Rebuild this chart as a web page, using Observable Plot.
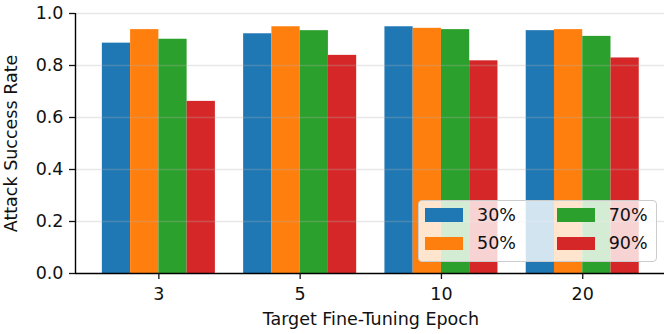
<!DOCTYPE html>
<html>
<head>
<meta charset="utf-8">
<script src="https://cdn.jsdelivr.net/npm/d3@7"></script>
<script src="https://cdn.jsdelivr.net/npm/@observablehq/plot@0.6"></script>
<style>
  html, body { margin: 0; padding: 0; background: #fff; }
  #wrap { position: relative; width: 664px; height: 334px; overflow: hidden; font-family: "DejaVu Sans", sans-serif; }
  #legend { position: absolute; left: 418px; top: 200px; width: 239px; height: 62px; box-sizing: border-box;
            border: 1px solid #cccccc; border-radius: 4px; background: rgba(255,255,255,0.8); }
  .item { position: absolute; display: flex; align-items: center; height: 13.5px; font-size: 17.5px; color: #111; }
  .sw { width: 38px; height: 13.5px; margin-right: 14px; flex: none; }
</style>
</head>
<body>
<div id="wrap"></div>
<script>
const epochs = ["3", "5", "10", "20"];
const series = ["30%", "50%", "70%", "90%"];
const colors = ["#1f77b4", "#ff7f0e", "#2ca02c", "#d62728"];
const values = {
  "30%": [0.886, 0.922, 0.949, 0.934],
  "50%": [0.938, 0.949, 0.943, 0.938],
  "70%": [0.901, 0.934, 0.938, 0.912],
  "90%": [0.662, 0.839, 0.818, 0.829]
};
const yTicks = [0, 0.2, 0.4, 0.6, 0.8, 1.0];
const xLabel = "Target Fine-Tuning Epoch";
const yLabel = "Attack Success Rate";

const barW = 0.2;
const rows = [];
epochs.forEach((ep, i) => {
  series.forEach((s, j) => {
    const x1 = i + (j - series.length / 2) * barW;
    rows.push({epoch: ep, series: s, value: values[s][i], x1, x2: x1 + barW});
  });
});
const lo = -series.length / 2 * barW, hi = epochs.length - 1 + series.length / 2 * barW;
const pad = 0.05 * (hi - lo);
const xDomain = [lo - pad, hi + pad];

const chart = Plot.plot({
  width: 664,
  height: 334,
  marginLeft: 75,
  marginRight: -1.6,
  marginTop: 13,
  marginBottom: 61,
  style: {fontFamily: "DejaVu Sans, sans-serif", fontSize: "17.5px", color: "#111", background: "transparent"},
  x: {type: "linear", domain: xDomain},
  y: {domain: [0, 1]},
  color: {domain: series, range: colors},
  marks: [
    Plot.rectY(rows, {x1: "x1", x2: "x2", y: "value", fill: "series"}),
    Plot.ruleY(yTicks.slice(1), {stroke: "#b0b0b0", strokeOpacity: 0.3, strokeWidth: 1.4}),
    Plot.ruleY([0], {stroke: "#000", strokeWidth: 1.4}),
    Plot.ruleX([xDomain[0]], {stroke: "#000", strokeWidth: 1.4}),
    Plot.axisY({ticks: yTicks, tickFormat: d3.format(".1f"), tickSize: 6, tickPadding: 6, label: null, strokeWidth: 1.3, fontSize: 17.5}),
    Plot.axisX({ticks: epochs.map((_, i) => i), tickFormat: i => epochs[i], tickSize: 6, tickPadding: 7.6, label: null, strokeWidth: 1.3, fontSize: 17.5}),
    Plot.text([yLabel], {text: d => d, frameAnchor: "left", rotate: -90, dx: -64.5, textAnchor: "middle", lineAnchor: "middle", fontSize: 17.5}),
    Plot.text([xLabel], {text: d => d, frameAnchor: "bottom", dy: 46, textAnchor: "middle", lineAnchor: "middle", fontSize: 17.5})
  ]
});

const wrap = document.getElementById("wrap");
wrap.appendChild(chart);

const color = chart.scale("color");
const legend = document.createElement("div");
legend.id = "legend";
const cols = [6, 137.7];
const tops = [7, 35.7];
series.forEach((s, k) => {
  const col = Math.floor(k / 2), row = k % 2;
  const item = document.createElement("div");
  item.className = "item";
  item.style.left = cols[col] + "px";
  item.style.top = tops[row] + "px";
  const sw = document.createElement("div");
  sw.className = "sw";
  sw.style.background = color.apply(s);
  const tx = document.createElement("span");
  tx.textContent = s;
  item.appendChild(sw);
  item.appendChild(tx);
  legend.appendChild(item);
});
wrap.appendChild(legend);
</script>
</body>
</html>
